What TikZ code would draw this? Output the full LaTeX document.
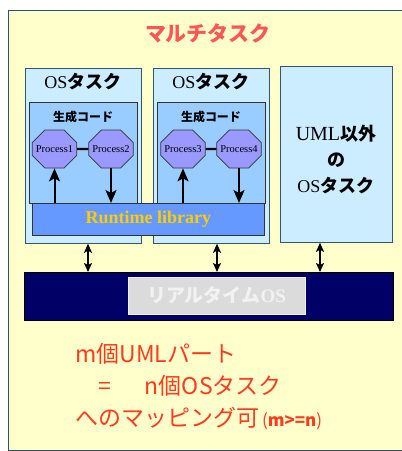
\documentclass[tikz,border=0pt]{standalone}
\usepackage{fontspec}
\setmainfont{Liberation Serif}
\newfontfamily\jp{Noto Sans CJK JP}
\usetikzlibrary{arrows.meta,shapes.misc}
\definecolor{bgyellow}{HTML}{FFFFCC}
\definecolor{framec}{HTML}{2F4F6F}
\definecolor{taskfill}{HTML}{CCECFF}
\definecolor{taskdraw}{HTML}{335577}
\definecolor{genfill}{HTML}{99CCFF}
\definecolor{procfill}{HTML}{9999FF}
\definecolor{rtfill}{HTML}{6699FF}
\definecolor{rttext}{HTML}{FFCC00}
\definecolor{osfill}{HTML}{000066}
\definecolor{titlered}{HTML}{FF5555}
\definecolor{notered}{HTML}{FF3B1F}
\begin{document}
\begin{tikzpicture}[x=1pt,y=-1pt,
  box/.style={rectangle, anchor=north west, inner sep=0pt, line width=0.8pt},
  taskbox/.style={box, fill=taskfill, draw=taskdraw},
  genbox/.style={box, fill=genfill, draw=black!80},
  proc/.style={chamfered rectangle, chamfered rectangle xsep=9pt, chamfered rectangle ysep=9pt,
     minimum width=41pt, minimum height=38pt, inner sep=0pt, fill=procfill, draw=black!80,
     line width=0.7pt, font=\fontsize{10.5}{11}\selectfont},
  lbl/.style={inner sep=0pt, font=\fontsize{18}{20}\selectfont},
  glbl/.style={inner sep=0pt, font=\jp\bfseries\fontsize{12}{14}\selectfont},
  arr/.style={line width=2pt, -{Stealth[length=13pt,width=11pt,inset=3pt]}},
  darr/.style={line width=1.8pt, {Stealth[length=9pt,width=8pt,inset=2pt]}-{Stealth[length=9pt,width=8pt,inset=2pt]}},
  note/.style={inner sep=0pt, anchor=west, text=notered, font=\jp\fontsize{23}{26}\selectfont}]
\useasboundingbox (0,0) rectangle (402,451);
\fill[white] (0,0) rectangle (402,451);
\draw[framec, line width=0.8pt, fill=bgyellow] (8,10) rectangle (420,450);

\node[inner sep=0pt, text=titlered, font=\jp\bfseries\fontsize{21}{24}\selectfont] (title) at (208,33) {マルチタスク};

% OS task boxes
\node[taskbox, minimum width=116pt, minimum height=175pt] (t1) at (25,68) {};
\node[taskbox, minimum width=116pt, minimum height=175pt] (t2) at (153,68) {};
\node[taskbox, minimum width=112pt, minimum height=176pt] (t3) at (280,66) {};

\node[lbl] (l1) at (83,82) {OS{\jp\bfseries タスク}};
\node[lbl] (l2) at (211,82) {OS{\jp\bfseries タスク}};
\node[lbl, align=center, font=\fontsize{18}{26}\selectfont] (l3) at (336,159)
  {{\fontsize{20}{20}\selectfont UML}{\jp\bfseries 以外}\\{\jp\bfseries の}\\OS{\jp\bfseries タスク}};

% generated code boxes
\node[genbox, minimum width=108pt, minimum height=101pt] (g1) at (29,102) {};
\node[genbox, minimum width=108pt, minimum height=101pt] (g2) at (157,102) {};
\node[glbl] (gl1) at (83,117) {生成コード};
\node[glbl] (gl2) at (211,117) {生成コード};

% processes
\node[proc] (p1) at (54.5,149) {Process1};
\node[proc] (p2) at (111,149) {Process2};
\node[proc] (p3) at (183,149) {Process3};
\node[proc] (p4) at (239,149) {Process4};
\draw[line width=2.2pt] (p1) -- (p2);
\draw[line width=2.2pt] (p3) -- (p4);

% runtime library
\node[box, fill=rtfill, draw=black!80, minimum width=232pt, minimum height=32pt,
  text=rttext, font=\bfseries\fontsize{18}{20}\selectfont] (rt) at (32,203) {Runtime library};

\draw[arr] (p1.south |- rt.north) -- (p1.south);
\draw[arr] (p2.south) -- (p2.south |- rt.north);
\draw[arr] (p3.south |- rt.north) -- (p3.south);
\draw[arr] (p4.south) -- (p4.south |- rt.north);

% real-time OS
\node[box, fill=osfill, draw=black, minimum width=369pt, minimum height=48pt] (os) at (24,272) {};
\node[box, fill=black!14, draw=black!5, line width=0.6pt, minimum width=177pt, minimum height=37pt,
  anchor=center, text=black!5, font=\bfseries\fontsize{19}{21}\selectfont] (rtos) at (216.5,295.5)
  {{\jp リアルタイム}OS};

\draw[darr] (88,0 |- t1.south) -- (88,0 |- os.north);
\draw[darr] (217,0 |- t2.south) -- (217,0 |- os.north);
\draw[darr] (320,0 |- t3.south) -- (320,0 |- os.north);

% notes
\node[note] (n1) at (75,354) {m個UMLパート};
\node[note] (n2) at (98,386) {=\hspace{34pt}n個OSタスク};
\node[note] (n3) at (75,419) {へのマッピング可{\fontsize{17}{19}\selectfont\,(\textbf{m>=n})}};
\end{tikzpicture}
\end{document}
